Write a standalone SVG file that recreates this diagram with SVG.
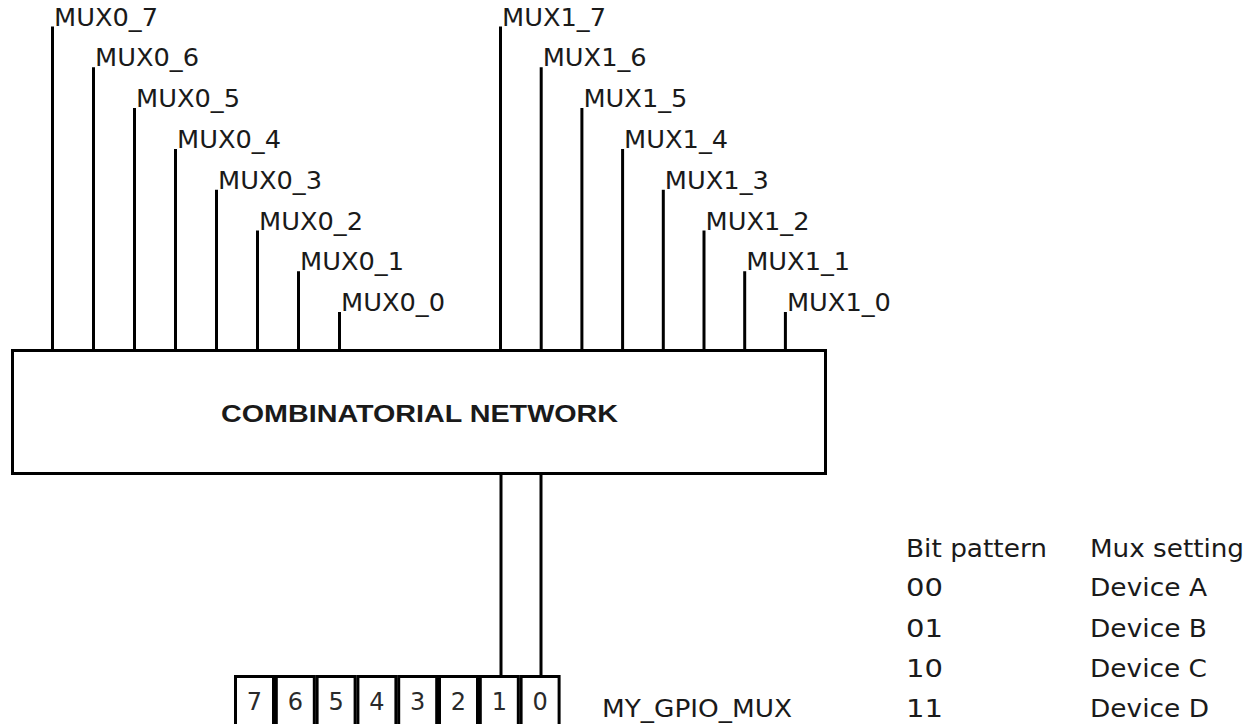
<svg xmlns="http://www.w3.org/2000/svg" width="1248" height="724" viewBox="0 0 1248 724">
<style>
.w{stroke:#000;stroke-width:3;fill:none}
.box{stroke:#000;stroke-width:3;fill:#fff}
.t{font-family:"DejaVu Sans",sans-serif;font-size:24px;fill:#1a1a1a}
.d{font-family:"DejaVu Sans",sans-serif;font-size:24px;fill:#2a2a2a;text-anchor:middle}
.c{font-family:"Liberation Sans",sans-serif;font-weight:bold;font-size:24px;fill:#1a1a1a}
</style>
<rect width="1248" height="724" fill="#fff"/>
<g id="connectors">
<path class="w" d="M52.5 350.5V26.5M93.5 350.5V67.3M134.5 350.5V108.1M175.5 350.5V148.9M216.5 350.5V189.7M257.5 350.5V230.5M298.5 350.5V271.3M339.5 350.5V312.1"/>
<path class="w" d="M500.5 350.5V26.5M541.2 350.5V67.3M581.9 350.5V108.1M622.6 350.5V148.9M663.3 350.5V189.7M704 350.5V230.5M744.7 350.5V271.3M785.4 350.5V312.1"/>
<path class="w" d="M501 473.5V676.5M541 473.5V676.5"/>
</g>
<g id="labels-mux0">
<text class="t" x="54" y="25.5" textLength="104" lengthAdjust="spacingAndGlyphs">MUX0_7</text>
<text class="t" x="95" y="66.3" textLength="104" lengthAdjust="spacingAndGlyphs">MUX0_6</text>
<text class="t" x="136" y="107.1" textLength="104" lengthAdjust="spacingAndGlyphs">MUX0_5</text>
<text class="t" x="177" y="147.9" textLength="104" lengthAdjust="spacingAndGlyphs">MUX0_4</text>
<text class="t" x="218" y="188.7" textLength="104" lengthAdjust="spacingAndGlyphs">MUX0_3</text>
<text class="t" x="259" y="229.5" textLength="104" lengthAdjust="spacingAndGlyphs">MUX0_2</text>
<text class="t" x="300" y="270.3" textLength="104" lengthAdjust="spacingAndGlyphs">MUX0_1</text>
<text class="t" x="341" y="311.1" textLength="104" lengthAdjust="spacingAndGlyphs">MUX0_0</text>
</g>
<g id="labels-mux1">
<text class="t" x="502" y="25.5" textLength="104" lengthAdjust="spacingAndGlyphs">MUX1_7</text>
<text class="t" x="542.7" y="66.3" textLength="104" lengthAdjust="spacingAndGlyphs">MUX1_6</text>
<text class="t" x="583.4" y="107.1" textLength="104" lengthAdjust="spacingAndGlyphs">MUX1_5</text>
<text class="t" x="624.1" y="147.9" textLength="104" lengthAdjust="spacingAndGlyphs">MUX1_4</text>
<text class="t" x="664.8" y="188.7" textLength="104" lengthAdjust="spacingAndGlyphs">MUX1_3</text>
<text class="t" x="705.5" y="229.5" textLength="104" lengthAdjust="spacingAndGlyphs">MUX1_2</text>
<text class="t" x="746.2" y="270.3" textLength="104" lengthAdjust="spacingAndGlyphs">MUX1_1</text>
<text class="t" x="786.9" y="311.1" textLength="104" lengthAdjust="spacingAndGlyphs">MUX1_0</text>
</g>
<g id="combinatorial-network">
<rect class="box" x="12.5" y="350.5" width="813" height="123"/>
<text class="c" x="221" y="422" textLength="397" lengthAdjust="spacingAndGlyphs">COMBINATORIAL NETWORK</text>
</g>
<g id="register">
<rect class="box" x="235.5" y="676.5" width="38" height="60"/>
<rect class="box" x="276.3" y="676.5" width="38" height="60"/>
<rect class="box" x="317.1" y="676.5" width="38" height="60"/>
<rect class="box" x="357.9" y="676.5" width="38" height="60"/>
<rect class="box" x="398.7" y="676.5" width="38" height="60"/>
<rect class="box" x="439.5" y="676.5" width="38" height="60"/>
<rect class="box" x="480.3" y="676.5" width="38" height="60"/>
<rect class="box" x="521.1" y="676.5" width="38" height="60"/>
<text class="d" x="254.5" y="709.5">7</text>
<text class="d" x="295.3" y="709.5">6</text>
<text class="d" x="336.1" y="709.5">5</text>
<text class="d" x="376.9" y="709.5">4</text>
<text class="d" x="417.7" y="709.5">3</text>
<text class="d" x="458.5" y="709.5">2</text>
<text class="d" x="499.3" y="709.5">1</text>
<text class="d" x="540.1" y="709.5">0</text>
</g>
<g id="register-label">
<text class="t" x="602" y="717" textLength="190" lengthAdjust="spacingAndGlyphs">MY_GPIO_MUX</text>
</g>
<g id="table">
<text class="t" x="906" y="556.5" textLength="141" lengthAdjust="spacingAndGlyphs">Bit pattern</text>
<text class="t" x="1090" y="556.5" textLength="154" lengthAdjust="spacingAndGlyphs">Mux setting</text>
<text class="t" x="906" y="596" textLength="37" lengthAdjust="spacingAndGlyphs">00</text>
<text class="t" x="1090" y="596" textLength="117" lengthAdjust="spacingAndGlyphs">Device A</text>
<text class="t" x="906" y="636.5" textLength="37" lengthAdjust="spacingAndGlyphs">01</text>
<text class="t" x="1090" y="636.5" textLength="117" lengthAdjust="spacingAndGlyphs">Device B</text>
<text class="t" x="906" y="677" textLength="37" lengthAdjust="spacingAndGlyphs">10</text>
<text class="t" x="1090" y="677" textLength="117" lengthAdjust="spacingAndGlyphs">Device C</text>
<text class="t" x="906" y="717" textLength="37" lengthAdjust="spacingAndGlyphs">11</text>
<text class="t" x="1090" y="717" textLength="119" lengthAdjust="spacingAndGlyphs">Device D</text>
</g>
</svg>
